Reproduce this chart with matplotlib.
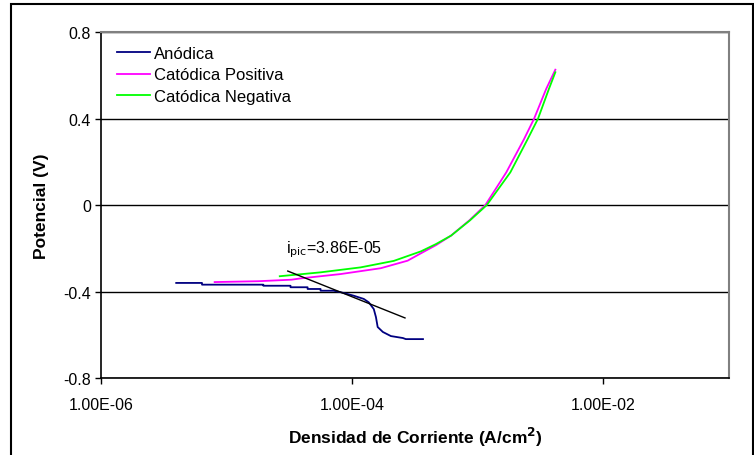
import matplotlib
matplotlib.use("Agg")
import matplotlib.pyplot as plt
from matplotlib.patches import Rectangle

plt.rcParams['font.family'] = ['Liberation Sans', 'DejaVu Sans']

# Anódica (current density A/cm2, potential V)
anodica_i = [3.99e-6, 6.4e-6, 6.4e-6, 1.97e-5, 1.97e-5, 3.24e-5, 3.24e-5, 4.43e-5, 4.43e-5,
             5.62e-5, 5.62e-5, 7.14e-5, 8.12e-5, 1.03e-4, 1.24e-4, 1.36e-4, 1.49e-4, 1.55e-4,
             1.60e-4, 1.76e-4, 2.04e-4, 2.54e-4, 2.68e-4, 3.67e-4]
anodica_v = [-0.360, -0.360, -0.368, -0.368, -0.373, -0.373, -0.380, -0.380, -0.388,
             -0.388, -0.396, -0.396, -0.403, -0.419, -0.434, -0.450, -0.481, -0.518,
             -0.564, -0.587, -0.606, -0.615, -0.620, -0.620]

# Catódica Positiva
cpos_i = [8.07e-6, 1.8e-5, 3.3e-5, 3.9e-5, 8.1e-5, 1.69e-4, 2.77e-4, 3.53e-4, 4.66e-4,
          6.14e-4, 8.6e-4, 1.15e-3, 1.69e-3, 2.34e-3, 2.81e-3, 3.51e-3, 4.15e-3]
cpos_v = [-0.356, -0.352, -0.345, -0.339, -0.319, -0.292, -0.257, -0.223, -0.185,
          -0.141, -0.070, 0.0, 0.152, 0.306, 0.400, 0.538, 0.627]

# Catódica Negativa
cneg_i = [2.66e-5, 5.62e-5, 1.17e-4, 2.15e-4, 3.53e-4, 4.66e-4, 6.14e-4, 8.7e-4, 1.18e-3,
          1.82e-3, 2.50e-3, 3.02e-3, 3.69e-3, 4.15e-3]
cneg_v = [-0.329, -0.311, -0.288, -0.258, -0.214, -0.180, -0.141, -0.070, 0.0,
          0.152, 0.306, 0.400, 0.538, 0.615]

# Tangent line
tan_i = [3.08e-5, 2.64e-4]
tan_v = [-0.305, -0.522]

xticks = [1e-6, 1e-4, 1e-2]
xticklabels = ["1.00E-06", "1.00E-04", "1.00E-02"]
yticks = [0.8, 0.4, 0.0, -0.4, -0.8]
yticklabels = ["0.8", "0.4", "0", "-0.4", "-0.8"]

fig = plt.figure(figsize=(7.54, 4.56), dpi=100)
ax = fig.add_axes([100.7/754, 1-379/456, (729-100.7)/754, (379-33.3)/456])

ax.plot(anodica_i, anodica_v, color='#000080', lw=1.3, label='Anódica')
ax.plot(cpos_i, cpos_v, color='#FF00FF', lw=1.3, label='Catódica Positiva')
ax.plot(cneg_i, cneg_v, color='#00FF00', lw=1.3, label='Catódica Negativa')
ax.plot(tan_i, tan_v, color='black', lw=1.0)

ax.set_xscale('log')
ax.set_xlim(1e-6, 1e-1)
ax.set_ylim(-0.8, 0.8)
ax.set_xticks(xticks)
ax.set_xticklabels(xticklabels)
ax.xaxis.set_minor_locator(matplotlib.ticker.NullLocator())
ax.set_yticks(yticks)
ax.set_yticklabels(yticklabels)
ax.tick_params(axis='both', labelsize=11.5, direction='out', length=4, width=1, colors='black')
ax.tick_params(axis='x', pad=10)
ax.tick_params(axis='y', pad=3)
ax.yaxis.grid(True, color='black', lw=1)
ax.set_axisbelow(True)

for s in ['top', 'right']:
    ax.spines[s].set_color('#808080')
    ax.spines[s].set_linewidth(1.5)
for s in ['left', 'bottom']:
    ax.spines[s].set_color('black')
    ax.spines[s].set_linewidth(1.2)

ax.set_xlabel('Densidad de Corriente (A/cm$^{\\mathbf{2}}$)', fontsize=12.5, fontweight='bold', labelpad=9)
ax.set_ylabel('Potencial (V)', fontsize=12.5, fontweight='bold', labelpad=10)

ax.text(3.0e-5, -0.22, r'i$_{\mathrm{pic}}$=3.86E-05', fontsize=11.5, ha='left', va='baseline')

leg = ax.legend(loc='upper left', bbox_to_anchor=(0.01, 0.99), frameon=False, fontsize=12,
                handlelength=2.0, handletextpad=0.2, labelspacing=0.4, borderaxespad=0.2)

fig.patches.append(Rectangle((10.5/754, -0.02), (753 - 10.5)/754, 1.02 - 4.5/456,
                             transform=fig.transFigure, fill=False, edgecolor='black', lw=1.5))

fig.savefig('out.png', dpi=100)
